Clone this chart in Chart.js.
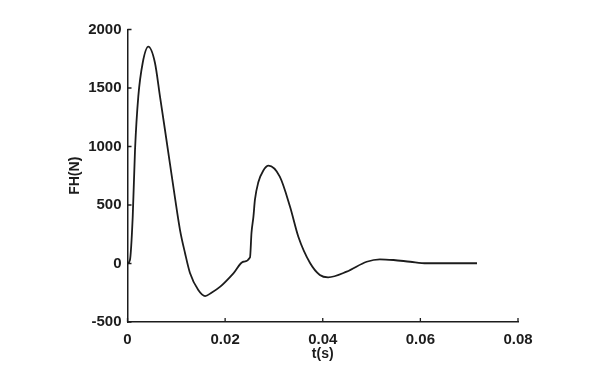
<!DOCTYPE html>
<html lang="en">
<head>
    <meta charset="UTF-8">
    <title>FH(N) vs t(s)</title>
    <script src="https://cdn.jsdelivr.net/npm/chart.js"></script>
    <style>
        body { margin: 0; background: #fff; }
        #chart { display: block; }
    </style>
</head>
<body>
    <canvas id="chart" width="591" height="383"></canvas>

    <script>
        // Values
        const timeS = [0, 0.0005, 0.00107, 0.00154, 0.00221, 0.00311, 0.00426, 0.00563, 0.00666,
            0.00768, 0.00871, 0.00973, 0.01076, 0.01178, 0.0128, 0.0145, 0.0159, 0.0172, 0.019,
            0.0217, 0.0237, 0.0251, 0.0254, 0.0258, 0.0261, 0.0268, 0.0278, 0.0289, 0.0312,
            0.0333, 0.035, 0.0374, 0.0394, 0.0411, 0.0449, 0.049, 0.0517, 0.0545, 0.0579,
            0.0613, 0.0716];
        const forceN = [0, 30, 400, 970, 1426, 1714, 1853, 1714, 1426,
            1141, 850, 560, 286, 90, -81, -226, -278, -250, -198,
            -84, 15, 53, 261, 400, 543, 694, 793, 836, 742,
            485, 229, 4, -98, -118, -70, 15, 36, 30, 15,
            2, 2];

        const xTickValues = [0, 0.02, 0.04, 0.06, 0.08];
        const xTickLabels = ['0', '0.02', '0.04', '0.06', '0.08'];
        const yTickValues = [-500, 0, 500, 1000, 1500, 2000];
        const yTickLabels = ['-500', '0', '500', '1000', '1500', '2000'];

        const ink = '#1c1c1c';
        const tickFont = { family: 'Liberation Sans, Arial, sans-serif', size: 15, weight: 'bold' };

        // ticks pointing into the plot, like the original figure
        const inwardTicks = {
            id: 'inwardTicks',
            afterDraw(chart) {
                const { ctx, chartArea, scales } = chart;
                ctx.save();
                ctx.strokeStyle = ink;
                ctx.lineWidth = 1.3;
                ctx.beginPath();
                xTickValues.forEach(v => {
                    const px = scales.x.getPixelForValue(v);
                    ctx.moveTo(px, chartArea.bottom);
                    ctx.lineTo(px, chartArea.bottom - 4);
                });
                yTickValues.forEach(v => {
                    const py = scales.y.getPixelForValue(v);
                    ctx.moveTo(chartArea.left, py);
                    ctx.lineTo(chartArea.left + 4, py);
                });
                ctx.stroke();
                ctx.restore();
            }
        };

        const ctx = document.getElementById('chart').getContext('2d');
        new Chart(ctx, {
            type: 'line',
            data: {
                datasets: [{
                    label: 'FH',
                    data: timeS.map((t, i) => ({ x: t, y: forceN[i] })),
                    borderColor: ink,
                    borderWidth: 1.8,
                    pointRadius: 0,
                    fill: false,
                    cubicInterpolationMode: 'monotone'
                }]
            },
            options: {
                responsive: false,
                animation: false,
                layout: { padding: { left: 0, top: 29.5, right: 73, bottom: 0 } },
                plugins: {
                    legend: { display: false },
                    tooltip: { enabled: false }
                },
                scales: {
                    x: {
                        type: 'linear',
                        min: 0,
                        max: 0.08,
                        afterBuildTicks(scale) {
                            scale.ticks = xTickValues.map(v => ({ value: v }));
                        },
                        afterFit(scale) { scale.height = 61; },
                        grid: { display: true, drawOnChartArea: false, drawTicks: false },
                        border: { display: true, color: ink, width: 1.5 },
                        ticks: {
                            color: ink,
                            font: tickFont,
                            padding: 9,
                            maxRotation: 0,
                            autoSkip: false,
                            callback: (v, i) => xTickLabels[i]
                        },
                        title: {
                            display: true,
                            text: 't(s)',
                            color: ink,
                            font: { family: 'Liberation Sans, Arial, sans-serif', size: 14, weight: 'bold' },
                            padding: { top: 0, bottom: 20 }
                        }
                    },
                    y: {
                        min: -500,
                        max: 2000,
                        afterBuildTicks(scale) {
                            scale.ticks = yTickValues.map(v => ({ value: v }));
                        },
                        afterFit(scale) { scale.width = 127.5; },
                        grid: { display: true, drawOnChartArea: false, drawTicks: false },
                        border: { display: true, color: ink, width: 1.5 },
                        ticks: {
                            color: ink,
                            font: tickFont,
                            padding: 6,
                            autoSkip: false,
                            callback: (v, i) => yTickLabels[i]
                        },
                        title: {
                            display: true,
                            text: 'FH(N)',
                            color: ink,
                            font: { family: 'Liberation Sans, Arial, sans-serif', size: 14, weight: 'bold' },
                            padding: { top: 66.5, bottom: 0 }
                        }
                    }
                }
            },
            plugins: [inwardTicks]
        });
    </script>
</body>
</html>
